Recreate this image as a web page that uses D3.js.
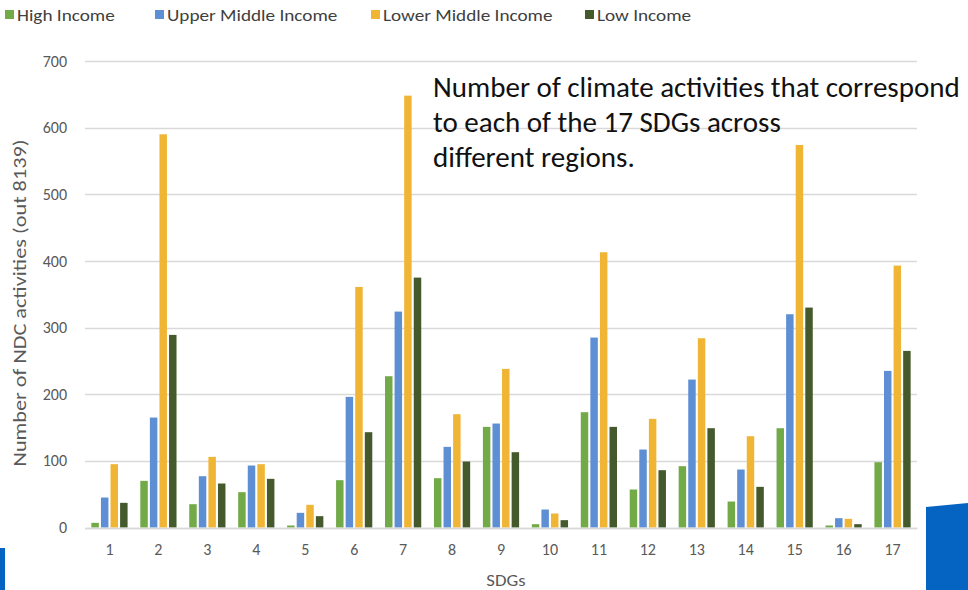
<!DOCTYPE html>
<html>
<head>
<meta charset="utf-8">
<script src="https://cdn.jsdelivr.net/npm/d3@7"></script>
<style>
  html, body { margin: 0; padding: 0; background: #fff; }
  svg { display: block; }
</style>
</head>
<body>
<svg id="chart" width="968" height="590"></svg>
<script>
// SDG numbers along the x axis
const sdgs = [1, 2, 3, 4, 5, 6, 7, 8, 9, 10, 11, 12, 13, 14, 15, 16, 17];

// Income groups (series) and their colours
const seriesNames = ["High Income", "Upper Middle Income", "Lower Middle Income", "Low Income"];
const seriesColors = ["#72aa48", "#5e8fd5", "#f0b535", "#44592c"];

// Number of NDC activities per SDG for each income group
const highIncome        = [7, 70, 35, 53, 3, 71, 227, 74, 151, 5, 173, 57, 92, 39, 149, 3, 98];
const upperMiddleIncome = [45, 165, 77, 93, 22, 196, 324, 121, 156, 27, 285, 117, 222, 87, 320, 14, 235];
const lowerMiddleIncome = [95, 590, 106, 95, 34, 361, 648, 170, 238, 21, 413, 163, 284, 137, 574, 13, 393];
const lowIncome         = [37, 289, 66, 73, 17, 143, 375, 99, 113, 11, 151, 86, 149, 61, 330, 5, 265];

const yTicks = [0, 100, 200, 300, 400, 500, 600, 700];

const yTitle = "Number of NDC activities (out 8139)";
const xTitle = "SDGs";
const noteLines = [
  "Number of climate activities that correspond",
  "to each of the 17 SDGs across",
  "different regions."
];

const seriesValues = [highIncome, upperMiddleIncome, lowerMiddleIncome, lowIncome];
const rows = sdgs.map((s, i) => ({ sdg: s, values: seriesValues.map(v => v[i]) }));

const FONT = "Carlito, Calibri, Lato, 'Open Sans', sans-serif";
const svg = d3.select("#chart");

// Widen a text element horizontally by a factor (Calibri-like proportions)
function widen(sel, factor) {
  sel.each(function () {
    const len = this.getComputedTextLength();
    d3.select(this).attr("textLength", len * factor).attr("lengthAdjust", "spacingAndGlyphs");
  });
}

// Scales
const x0 = d3.scaleBand().domain(sdgs).range([85, 917]).paddingInner(0.26).paddingOuter(0.13);
const x1 = d3.scaleBand().domain(d3.range(4)).range([0, x0.bandwidth()]).paddingInner(0.22);
const y = d3.scaleLinear().domain([0, 700]).range([527.5, 61]);

// Gridlines
svg.append("g")
  .selectAll("line")
  .data(yTicks)
  .join("line")
  .attr("x1", 85).attr("x2", 917)
  .attr("y1", d => Math.round(y(d)) + 0.5)
  .attr("y2", d => Math.round(y(d)) + 0.5)
  .attr("stroke", "#d9d9d9")
  .attr("stroke-width", 1.3);

// Y axis labels
const yAxis = d3.axisLeft(y).tickValues(yTicks).tickSize(0).tickPadding(0);
const gy = svg.append("g").attr("transform", "translate(67,0)").call(yAxis);
gy.select(".domain").remove();
gy.selectAll("text")
  .attr("font-family", FONT)
  .attr("font-size", 16)
  .attr("fill", "#595959");

// Bars
const groups = svg.append("g")
  .selectAll("g")
  .data(rows)
  .join("g")
  .attr("transform", d => `translate(${x0(d.sdg)},0)`);

groups.selectAll("rect")
  .data(d => d.values.map((v, k) => ({ k, v })))
  .join("rect")
  .attr("x", d => x1(d.k))
  .attr("width", x1.bandwidth())
  .attr("y", d => y(d.v))
  .attr("height", d => y(0) - y(d.v))
  .attr("fill", d => seriesColors[d.k]);

// X axis
const xAxis = d3.axisBottom(x0).tickSize(0).tickPadding(0);
const gx = svg.append("g").attr("transform", "translate(0,528)").call(xAxis);
gx.select(".domain").attr("stroke", "#d9d9d9").attr("stroke-width", 1.3);
gx.selectAll("text")
  .attr("y", 21)
  .attr("dy", "0.35em")
  .attr("font-family", FONT)
  .attr("font-size", 16)
  .attr("fill", "#595959");

// Axis titles
const yt = svg.append("text")
  .attr("transform", "translate(26,303) rotate(-90)")
  .attr("text-anchor", "middle")
  .attr("font-family", FONT)
  .attr("font-size", 17.5)
  .attr("fill", "#595959")
  .text(yTitle);
widen(yt, 1.27);

const xt = svg.append("text")
  .attr("x", 506).attr("y", 586)
  .attr("text-anchor", "middle")
  .attr("font-family", FONT)
  .attr("font-size", 17)
  .attr("fill", "#595959")
  .text(xTitle);
widen(xt, 1.1);

// Legend
const legendX = [5, 155, 371, 585];
const legend = svg.append("g")
  .selectAll("g")
  .data(seriesNames)
  .join("g")
  .attr("transform", (d, i) => `translate(${legendX[i]},0)`);
legend.append("rect")
  .attr("x", 0).attr("y", 10)
  .attr("width", 9).attr("height", 9)
  .attr("fill", (d, i) => seriesColors[i]);
const legendText = legend.append("text")
  .attr("x", 12).attr("y", 20.5)
  .attr("font-family", FONT)
  .attr("font-size", 16)
  .attr("fill", "#404040")
  .text(d => d);
widen(legendText, 1.2);

// Note text over the chart
const note = svg.append("g");
note.selectAll("text")
  .data(noteLines)
  .join("text")
  .attr("x", 433)
  .attr("y", (d, i) => 97 + i * 35)
  .attr("font-family", FONT)
  .attr("font-size", 25)
  .attr("fill", "#111")
  .text(d => d);
// size the note so its first line runs to the right edge
const first = note.select("text").node();
const w = first.getComputedTextLength();
const fs = 25 * 527 / w;
note.selectAll("text").attr("font-size", fs);

// Decorative blue panels at the bottom corners
svg.append("rect").attr("x", 0).attr("y", 548).attr("width", 5).attr("height", 42).attr("fill", "#0563c1");
svg.append("path").attr("d", "M926,507 L968,503 L968,590 L926,590 Z").attr("fill", "#0563c1");
</script>
</body>
</html>
